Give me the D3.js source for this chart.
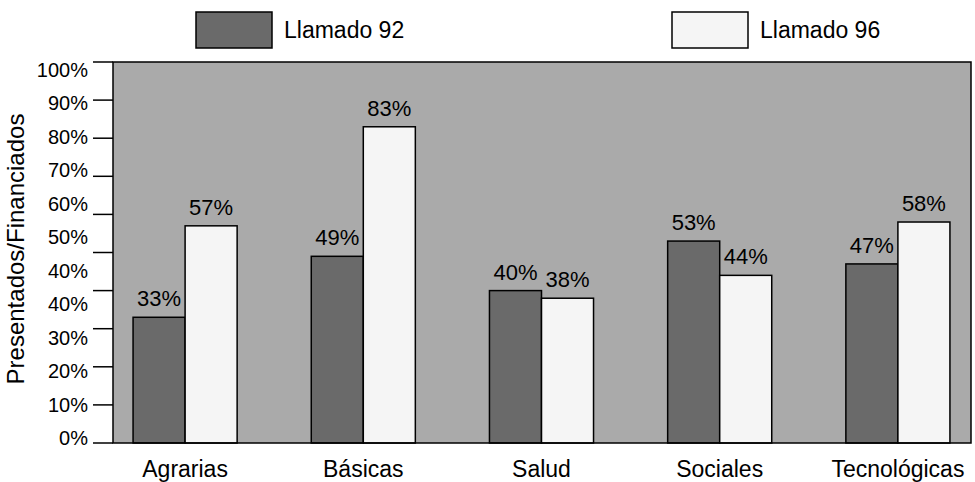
<!DOCTYPE html>
<meta charset="utf-8">
<style>
  body { margin: 0; background: #fff; }
  text { font-family: Arial, "Liberation Sans", Helvetica, sans-serif; fill: #000; }
</style>
<body>
<script src="https://d3js.org/d3.v7.min.js"></script>
<script>

// datos
let categorias = ['Agrarias', 'Básicas', 'Salud', 'Sociales', 'Tecnológicas'];
let series = ['Llamado 92', 'Llamado 96'];
let llamado92 = [33, 49, 40, 53, 47];
let llamado96 = [57, 83, 38, 44, 58];
// etiquetas del eje tal como aparecen (con el 40% repetido)
let etiquetasY = ['100%', '90%', '80%', '70%', '60%', '50%', '40%', '40%', '30%', '20%', '10%', '0%'];
let ticksY = [0, 10, 20, 30, 40, 50, 60, 70, 80, 90, 100];

let width = 975;
let height = 482;
let plot = { left: 113, right: 971, top: 62, bottom: 443 };

let colores = { 'Llamado 92': '#6a6a6a', 'Llamado 96': '#f5f5f5' };

let svg = d3.select('body').append('svg')
  .attr('width', width)
  .attr('height', height);

let y = d3.scaleLinear()
  .domain([0, 100])
  .range([plot.bottom, plot.top]);

let x0 = d3.scaleBand()
  .domain(categorias)
  .range([96, 987])
  .paddingInner(0.416)
  .paddingOuter(0.208);

let x1 = d3.scaleBand()
  .domain(series)
  .range([0, x0.bandwidth()]);

// fondo del área de trazado
svg.append('rect')
  .attr('x', plot.left)
  .attr('y', plot.top)
  .attr('width', plot.right - plot.left)
  .attr('height', plot.bottom - plot.top)
  .attr('fill', '#aaaaaa');

// marcas del eje y
svg.append('g')
  .selectAll('line')
  .data(ticksY)
  .join('line')
  .attr('x1', plot.left - 20)
  .attr('x2', plot.left)
  .attr('y1', d => y(d))
  .attr('y2', d => y(d))
  .attr('stroke', '#000')
  .attr('stroke-width', 1.5);

let yEtiq = d3.scalePoint()
  .domain(d3.range(etiquetasY.length))
  .range([plot.top + 8, plot.bottom - 5]);

svg.append('g')
  .selectAll('text')
  .data(etiquetasY)
  .join('text')
  .attr('x', plot.left - 25)
  .attr('y', (d, i) => yEtiq(i))
  .attr('dy', '0.35em')
  .attr('text-anchor', 'end')
  .style('font-size', '20px')
  .text(d => d);

// título del eje
svg.append('text')
  .attr('transform', 'translate(24,' + 249 + ') rotate(-90)')
  .attr('text-anchor', 'middle')
  .style('font-size', '24px')
  .text('Presentados/Financiados');

// barras
let datos = categorias.map((c, i) => ({
  cat: c,
  valores: [
    { serie: series[0], v: llamado92[i] },
    { serie: series[1], v: llamado96[i] }
  ]
}));

let grupos = svg.append('g')
  .selectAll('g')
  .data(datos)
  .join('g')
  .attr('transform', d => 'translate(' + x0(d.cat) + ',0)');

grupos.selectAll('rect')
  .data(d => d.valores)
  .join('rect')
  .attr('x', d => x1(d.serie))
  .attr('y', d => y(d.v))
  .attr('width', x1.bandwidth())
  .attr('height', d => y(0) - y(d.v))
  .attr('fill', d => colores[d.serie])
  .attr('stroke', '#000')
  .attr('stroke-width', 1.5);

grupos.selectAll('text')
  .data(d => d.valores)
  .join('text')
  .attr('x', d => x1(d.serie) + x1.bandwidth() / 2)
  .attr('y', d => y(d.v) - 11)
  .attr('text-anchor', 'middle')
  .style('font-size', '22px')
  .text(d => d.v + '%');

// borde del área
svg.append('rect')
  .attr('x', plot.left)
  .attr('y', plot.top)
  .attr('width', plot.right - plot.left)
  .attr('height', plot.bottom - plot.top)
  .attr('fill', 'none')
  .attr('stroke', '#000')
  .attr('stroke-width', 1.5);

// etiquetas del eje x
svg.append('g')
  .selectAll('text')
  .data(categorias)
  .join('text')
  .attr('x', d => x0(d) + x0.bandwidth() / 2)
  .attr('y', 477)
  .attr('text-anchor', 'middle')
  .style('font-size', '23px')
  .text(d => d);

// leyenda
let leyX = [196, 672];
let leyenda = svg.append('g')
  .selectAll('g')
  .data(series)
  .join('g')
  .attr('transform', (d, i) => 'translate(' + leyX[i] + ',12)');

leyenda.append('rect')
  .attr('width', 76)
  .attr('height', 36)
  .attr('fill', d => colores[d])
  .attr('stroke', '#000')
  .attr('stroke-width', 1.5);

leyenda.append('text')
  .attr('x', 88)
  .attr('y', 18)
  .attr('dy', '0.35em')
  .style('font-size', '23px')
  .text(d => d);

</script>
</body>
